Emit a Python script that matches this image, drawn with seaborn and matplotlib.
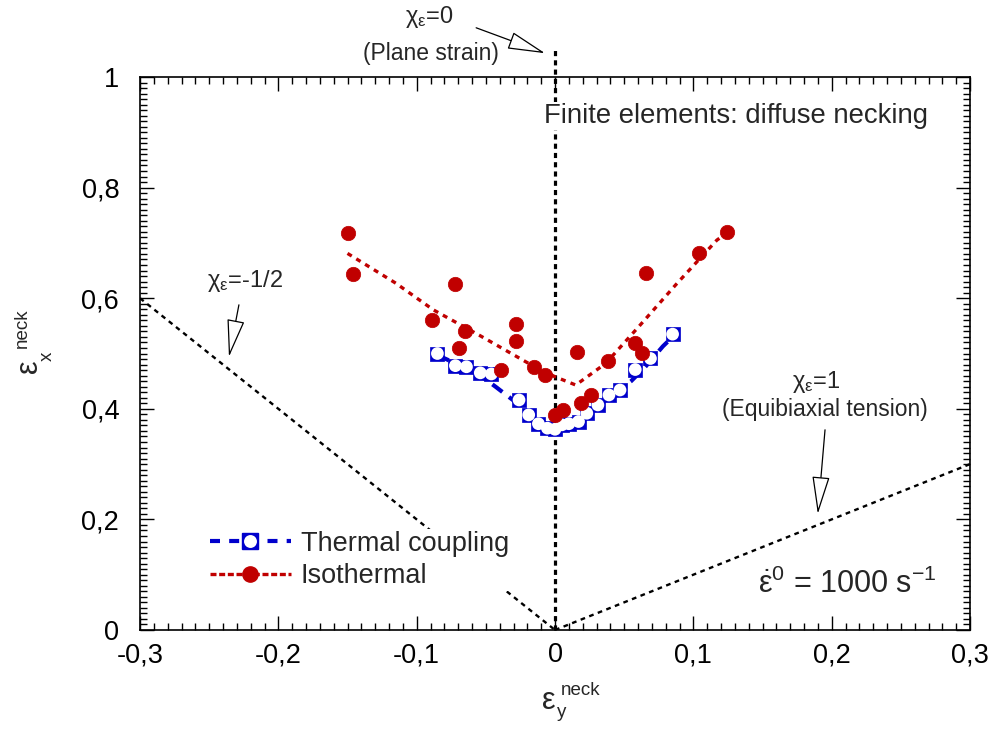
import numpy as np
import pandas as pd
import matplotlib
matplotlib.use("Agg")
import matplotlib.pyplot as plt
import seaborn as sns
from matplotlib.lines import Line2D
from matplotlib.legend_handler import HandlerTuple
from matplotlib.ticker import MultipleLocator, FuncFormatter

# ---------------- data ----------------
iso_x = [-0.150, -0.146, -0.0725, -0.0887, -0.0651, -0.0692, -0.0284, -0.0280, -0.0388,
         -0.0154, -0.0072, 0.0161, 0.0381, 0.066, 0.0578, 0.0631, 0.104, 0.1246,
         0.0258, 0.019, 0.006, 0.0]
iso_y = [0.718, 0.643, 0.625, 0.561, 0.540, 0.510, 0.554, 0.523, 0.470,
         0.475, 0.461, 0.503, 0.487, 0.646, 0.519, 0.501, 0.681, 0.720,
         0.425, 0.410, 0.398, 0.389]

iso_fit_x = [-0.150, -0.115, -0.088, -0.054, -0.019, 0.0, 0.015, 0.0366, 0.0607, 0.0872, 0.117, 0.122]
iso_fit_y = [0.681, 0.627, 0.579, 0.532, 0.482, 0.458, 0.443, 0.482, 0.549, 0.624, 0.705, 0.714]

thermal_x = [-0.085, -0.072, -0.064, -0.054, -0.046, -0.026, -0.019, -0.012, -0.0055, 0.0,
             0.005, 0.010, 0.017, 0.023, 0.031, 0.039, 0.047, 0.058, 0.069, 0.085]
thermal_y = [0.500, 0.478, 0.476, 0.465, 0.463, 0.416, 0.389, 0.373, 0.365, 0.363,
             0.371, 0.373, 0.377, 0.392, 0.407, 0.425, 0.434, 0.471, 0.491, 0.535]

thermal_fit_x = [-0.085, -0.07, -0.055, -0.043, -0.03, -0.015, 0.0, 0.015, 0.03, 0.045, 0.055, 0.065, 0.078, 0.085]
thermal_fit_y = [0.497, 0.480, 0.462, 0.440, 0.415, 0.385, 0.365, 0.375, 0.403, 0.432, 0.450, 0.475, 0.513, 0.530]

# reference strain paths
half_x = [-0.3, 0.0]
half_y = [0.6, 0.0]
plane_x = [0.0, 0.0]
plane_y = [0.0, 1.055]
equi_x = [0.0, 0.3]
equi_y = [0.0, 0.3]

x_ticks = [-0.3, -0.2, -0.1, 0.0, 0.1, 0.2, 0.3]
y_ticks = [0.0, 0.2, 0.4, 0.6, 0.8, 1.0]

BLUE = "#0000CC"
RED = "#C00000"

# ---------------- style ----------------
sns.set_style("ticks")
plt.rcParams["font.family"] = ["Liberation Sans", "DejaVu Sans"]
plt.rcParams["mathtext.fontset"] = "custom"
plt.rcParams["mathtext.rm"] = "Liberation Sans"
plt.rcParams["mathtext.it"] = "Liberation Sans:italic"
plt.rcParams["mathtext.bf"] = "Liberation Sans:bold"

W, H = 997, 734
fig = plt.figure(figsize=(W / 100, H / 100), dpi=100)
ax = fig.add_axes([140 / W, 1 - 630 / H, 830 / W, 553 / H])


def px(x, y):
    return x / W, 1 - y / H


# reference lines
sns.lineplot(x=half_x, y=half_y, ax=ax, color="black", lw=1.7, linestyle=(0, (2.0, 1.9)),
             sort=False, estimator=None, zorder=1)
sns.lineplot(x=equi_x, y=equi_y, ax=ax, color="black", lw=1.7, linestyle=(0, (2.0, 1.9)),
             sort=False, estimator=None, zorder=1)
sns.lineplot(x=plane_x, y=plane_y, ax=ax, color="black", lw=2.3, linestyle=(0, (1.6, 1.3)),
             sort=False, estimator=None, zorder=2, clip_on=False)

# fit lines
sns.lineplot(x=thermal_fit_x, y=thermal_fit_y, ax=ax, color=BLUE, lw=3.0,
             linestyle=(0, (3.0, 2.0)), sort=False, estimator=None, zorder=3)
sns.lineplot(x=iso_fit_x, y=iso_fit_y, ax=ax, color=RED, lw=2.4,
             linestyle=(0, (1.5, 1.6)), sort=False, estimator=None, zorder=3)

# markers
sns.scatterplot(x=thermal_x, y=thermal_y, ax=ax, marker="s", s=105, color=BLUE,
                edgecolor=BLUE, linewidth=0.5, zorder=4)
sns.scatterplot(x=thermal_x, y=thermal_y, ax=ax, marker="o", s=84, color="white",
                edgecolor="none", linewidth=0, zorder=5)
sns.scatterplot(x=iso_x, y=iso_y, ax=ax, marker="o", s=108, color=RED,
                edgecolor=RED, linewidth=0.5, zorder=6)

# axes
ax.set_xlim(-0.3, 0.3)
ax.set_ylim(0, 1)
ax.xaxis.set_major_locator(MultipleLocator(0.1))
ax.xaxis.set_minor_locator(MultipleLocator(0.01))
ax.yaxis.set_major_locator(MultipleLocator(0.2))
ax.yaxis.set_minor_locator(MultipleLocator(0.01))
ax.set_xticks(x_ticks)
ax.set_yticks(y_ticks)


def comma_fmt(v, pos):
    v = round(v, 6)
    if abs(v) < 1e-9:
        return "0"
    return ("%g" % v).replace(".", ",")


ax.xaxis.set_major_formatter(FuncFormatter(comma_fmt))
ax.yaxis.set_major_formatter(FuncFormatter(comma_fmt))
ax.tick_params(which="both", direction="in", top=True, right=True, color="black",
               labelsize=19.5, labelcolor="black")
ax.tick_params(which="major", length=10, width=1.0)
ax.tick_params(which="minor", length=5, width=1.0)
ax.tick_params(axis="x", pad=9)
ax.tick_params(axis="y", pad=15)
for sp in ax.spines.values():
    sp.set_linewidth(1.2)
    sp.set_color("black")
ax.set_xlabel("")
ax.set_ylabel("")

# axis labels: large epsilon with small super/subscripts
EPS_FS = 22
SUP_FS = 13.5
fig.text(*px(542, 709), "ε", fontsize=EPS_FS, ha="left", va="baseline")
fig.text(*px(561, 695), "neck", fontsize=SUP_FS, ha="left", va="baseline")
fig.text(*px(557, 717), "y", fontsize=SUP_FS, ha="left", va="baseline")

fig.text(*px(37, 373), "ε", fontsize=EPS_FS, ha="left", va="baseline", rotation=90,
         rotation_mode="anchor")
fig.text(*px(27, 348), "neck", fontsize=SUP_FS, ha="left", va="baseline", rotation=90,
         rotation_mode="anchor")
fig.text(*px(52, 361), "x", fontsize=SUP_FS, ha="left", va="baseline", rotation=90,
         rotation_mode="anchor")

# annotations
arrow_kw = dict(arrowstyle="-|>,head_length=1.5,head_width=0.35", fc="white", ec="black",
                lw=0.9, mutation_scale=16, shrinkA=0, shrinkB=0)
ax.text(-0.0905, 1.108, r"$\mathregular{χ_ε}$=0", fontsize=17, ha="center", va="center",
        clip_on=False)
ax.text(-0.090, 1.043, "(Plane strain)", fontsize=16.5, ha="center", va="center", clip_on=False)
ax.annotate("", xy=(-0.0072, 1.043), xytext=(-0.057, 1.089), arrowprops=arrow_kw,
            annotation_clip=False)

ax.text(-0.224, 0.631, r"$\mathregular{χ_ε}$=-1/2", fontsize=17, ha="center", va="center")
ax.annotate("", xy=(-0.2357, 0.494), xytext=(-0.2285, 0.588), arrowprops=arrow_kw)

ax.text(0.189, 0.448, r"$\mathregular{χ_ε}$=1", fontsize=17, ha="center", va="center")
ax.text(0.195, 0.398, "(Equibiaxial tension)", fontsize=16.5, ha="center", va="center")
ax.annotate("", xy=(0.190, 0.210), xytext=(0.1952, 0.362), arrowprops=arrow_kw)

ax.text(-0.008, 0.917, "Finite elements: diffuse necking", fontsize=19.8, ha="left",
        va="baseline", zorder=8,
        bbox=dict(boxstyle="square,pad=0.05", fc="white", ec="none"))
ax.text(0.276, 0.067, r"$\mathregular{\dot{ε}^0}$ = 1000 s$\mathregular{^{-1}}$", fontsize=22,
        ha="right", va="baseline")

# legend
h_blue = Line2D([], [], color=BLUE, lw=3.0, linestyle=(0, (2.4, 2.2)), marker="s", ms=11,
                mfc=BLUE, mec=BLUE)
h_blue_c = Line2D([], [], ls="none", marker="o", ms=9.3, mfc="white", mec="none")
h_red = Line2D([], [], color=RED, lw=2.4, linestyle=(0, (1.8, 0.8)), marker="o", ms=11,
               mfc=RED, mec=RED)
leg = ax.legend([(h_blue, h_blue_c), h_red], ["Thermal coupling", "Isothermal"],
                handler_map={tuple: HandlerTuple(ndivide=1, pad=0)},
                loc="center left", bbox_to_anchor=(0.0815, 0.1266), fontsize=19.5,
                frameon=True, facecolor="white", edgecolor="none", framealpha=1,
                fancybox=False, handlelength=3.0, handletextpad=0.35, labelspacing=0.24,
                borderpad=0.08, borderaxespad=0)
leg.set_zorder(7)

fig.savefig("out.png", dpi=100)
